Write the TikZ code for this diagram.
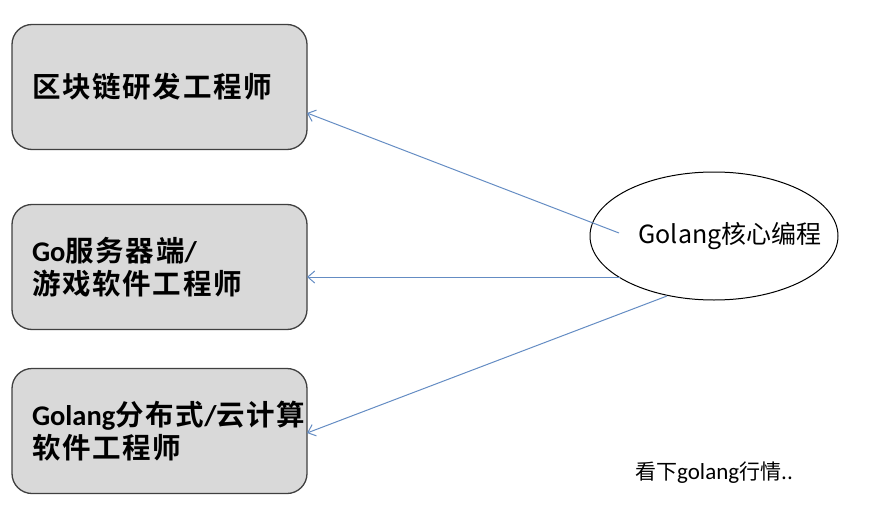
\documentclass[tikz,border=0pt]{standalone}
\usepackage{fontspec}
\setmainfont{Noto Sans CJK SC}
\newfontfamily\rolefont[LetterSpace=6]{Noto Sans CJK SC Bold}
\newfontfamily\latinfont{Carlito}
\newcommand\lat[1]{{\latinfont\bfseries #1}}
\usepackage{tikz}
\usetikzlibrary{calc,shapes.geometric,arrows.meta}
\tikzset{>={Straight Barb[length=7pt,width=12pt]}}
\definecolor{boxgray}{RGB}{217,217,217}
\definecolor{boxline}{RGB}{64,64,64}
\definecolor{linkblue}{RGB}{100,140,195}
\tikzset{
	role/.style={draw=boxline, line width=1.3pt, fill=boxgray, rounded corners=20pt,
		minimum width=295pt, minimum height=125pt, inner xsep=20pt, outer sep=0pt,
		text width=255pt, align=left, font=\rolefont\fontsize{28.5}{33}\selectfont},
	hub/.style={draw, ellipse, line width=1pt, minimum width=248pt, minimum height=128pt,
		inner sep=0pt, outer sep=0pt, font=\fontsize{25}{28}\selectfont},
	link/.style={->, draw=linkblue, line width=1pt},
}

\begin{document}
\begin{tikzpicture}[x=1pt,y=-1pt]
		\useasboundingbox (0,0) rectangle (894,508);
		% job boxes
		\node[role] (chain) at (159.5,87) {区块链研发工程师};
		\node[role] (server) at (159.5,267) {\lat{Go}服务器端\lat{/}\\游戏软件工程师};
		\node[role] (cloud) at (159.5,431) {\lat{Golang}分布式\lat{/}云计算\\软件工程师};
		% core course
		\node[hub] (core) at (714,236) {\makebox[0pt]{\hspace*{32pt}Golang核心编程}};
		\node[font=\fontsize{21}{25}\selectfont] (note) at (714,473) {看下{\latinfont\fontsize{23}{25}\selectfont golang}行情..};
		% links
		\draw[link] ($(core.center)+(-95,-3)$) -- ($(chain.east)+(0,26)$);
		\draw[link] ($(core.center)+(-94,41)$) -- ($(server.east)+(0,10)$);
		\draw[link] ($(core.center)+(-47,60)$) -- ($(cloud.east)+(0,2)$);
	\end{tikzpicture}
\end{document}
